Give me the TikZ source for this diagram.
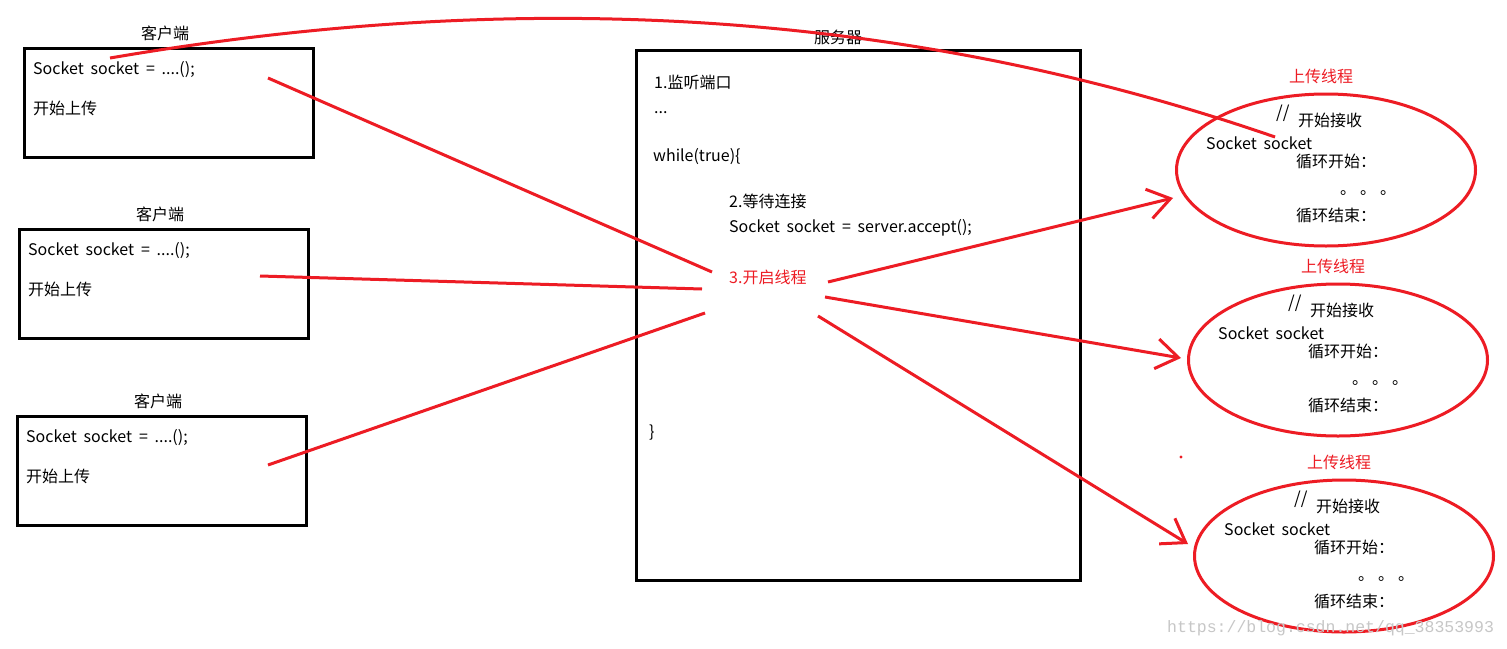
\documentclass[tikz,border=0pt]{standalone}
\usepackage{fontspec}
\setmainfont{Noto Sans CJK SC}[WordSpace=1.9]
\newfontfamily\wmfont{Liberation Mono}
\usetikzlibrary{arrows.meta,shapes.geometric}
\definecolor{pred}{HTML}{ED1C24}
\begin{document}
\begin{tikzpicture}[x=1pt,y=-1pt,
  txt/.style={anchor=west,inner sep=0pt,font=\fontsize{16}{18}\selectfont,text=black},
  lbl/.style={inner sep=0pt,font=\fontsize{16}{18}\selectfont,text=black},
  rlbl/.style={inner sep=0pt,font=\fontsize{16}{18}\selectfont,text=pred},
  cbox/.style={draw=black,line width=3pt,minimum width=289pt,minimum height=109pt,inner sep=0pt},
  sbox/.style={draw=black,line width=3pt,minimum width=444pt,minimum height=530pt,inner sep=0pt},
  thr/.style={draw=pred,line width=3pt,ellipse,minimum width=299pt,minimum height=152pt,inner sep=0pt},
  rline/.style={draw=pred,line width=3pt},
  rarrow/.style={draw=pred,line width=3pt,-{Straight Barb[length=22pt,width=30pt,line width=3pt]}}
]
\useasboundingbox (0,0) rectangle (1507,648);
\fill[white] (0,0) rectangle (1507,648);

% ---------- clients ----------
\node[cbox] (c1) at (168.5,102.5) {};
\node[lbl] (c1l) at (165,33) {客户端};
\node[txt] (c1a) at (33,70) {Socket socket = ....();};
\node[txt] (c1b) at (33,108) {开始上传};

\node[cbox] (c2) at (163.5,283.5) {};
\node[lbl] (c2l) at (160,214) {客户端};
\node[txt] (c2a) at (28,251) {Socket socket = ....();};
\node[txt] (c2b) at (28,289) {开始上传};

\node[cbox] (c3) at (161.5,470.5) {};
\node[lbl] (c3l) at (158,401) {客户端};
\node[txt] (c3a) at (26,438) {Socket socket = ....();};
\node[txt] (c3b) at (26,476) {开始上传};

% ---------- server ----------
\node[sbox] (srv) at (858,315) {};
\node[lbl] (srvl) at (838,37) {服务器};
\node[txt] (s1) at (654,82) {1.监听端口};
\node[txt] (s2) at (654,113) {...};
\node[txt] (s3) at (653,157) {while(true)\{};
\node[txt] (s4) at (729,201) {2.等待连接};
\node[txt] (s5) at (729,228) {Socket socket = server.accept();};
\node[txt,text=pred] (s6) at (729,277) {3.开启线程};
\node[txt] (s7) at (649,433) {\}};

% ---------- threads ----------
\foreach \i/\dx/\dy in {1/0/0,2/12/190,3/18/386}{
  \node[thr] (t\i) at (1326+\dx,170+\dy) {};
  \node[rlbl] (t\i l) at (1321+\dx,76+\dy) {上传线程};
  \node[txt,font=\fontsize{17}{18}\selectfont\itshape] (t\i a) at (1276+\dx,113+\dy) {//};
  \node[txt] (t\i b) at (1298+\dx,120+\dy) {开始接收};
  \node[txt] (t\i c) at (1206+\dx,143+\dy) {Socket socket};
  \node[txt] (t\i d) at (1296+\dx,161+\dy) {循环开始：};
  \node[txt] (t\i e) at (1340+\dx,193+\dy) {。\hspace{4pt}。\hspace{4pt}。};
  \node[txt] (t\i f) at (1296+\dx,215+\dy) {循环结束：};
}

% ---------- connectors ----------
\coordinate (a1) at (268,78);  \coordinate (b1) at (712,272);
\coordinate (a2) at (260,276); \coordinate (b2) at (702,289);
\coordinate (a3) at (268,465); \coordinate (b3) at (705,313);
\draw[rline] (a1) -- (b1);
\draw[rline] (a2) -- (b2);
\draw[rline] (a3) -- (b3);

\coordinate (o1) at (828,282); \coordinate (e1) at (1173,198);
\coordinate (o2) at (825,297); \coordinate (e2) at (1181,358);
\coordinate (o3) at (818,316); \coordinate (e3) at (1188,544);
\draw[rarrow] (o1) -- (e1);
\draw[rarrow] (o2) -- (e2);
\draw[rarrow] (o3) -- (e3);

\coordinate (k0) at (110,58);
\coordinate (k1) at (1275,137);
\draw[rline] (k0) .. controls (450,0) and (850,-10) .. (k1);

\coordinate (dot) at (1181,457);
\fill[pred] (dot) circle (1.6);

% ---------- watermark ----------
\node[anchor=west,inner sep=0pt,font=\wmfont\fontsize{16.5}{18}\selectfont,text=black!22] (wm) at (1167,628) {https://blog.csdn.net/qq\_38353993};
\end{tikzpicture}
\end{document}
